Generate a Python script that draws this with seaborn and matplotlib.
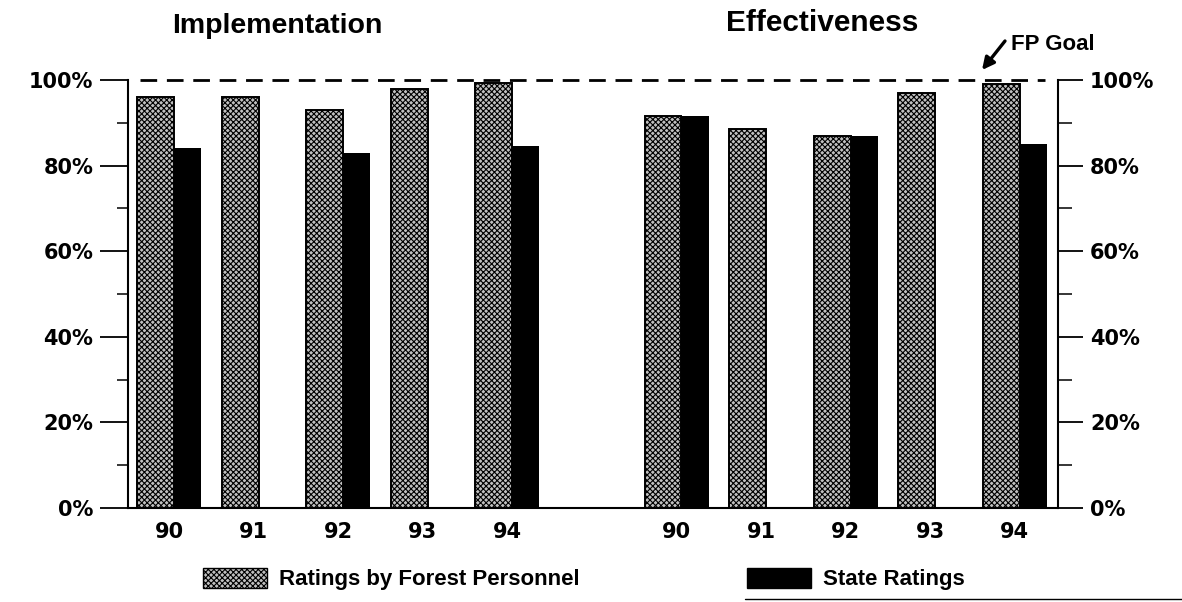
import numpy as np
import pandas as pd
import matplotlib
matplotlib.use("Agg")
import matplotlib.pyplot as plt
from matplotlib.ticker import MultipleLocator
from matplotlib.patches import Patch
from matplotlib.lines import Line2D
import seaborn as sns

# ---------------- data ----------------
panels = ["Implementation", "Effectiveness"]
years = ["90", "91", "92", "93", "94"]
forest_impl = [96, 96, 93, 98, 99.2]
state_impl = [84, np.nan, 83, np.nan, 84.5]
forest_eff = [91.5, 88.5, 87, 97, 99]
state_eff = [91.5, np.nan, 87, np.nan, 85]
series_names = ["Ratings by Forest Personnel", "State Ratings"]
ytick_vals = [0, 20, 40, 60, 80, 100]
goal_value = 100
goal_label = "FP Goal"

# ---------------- table ----------------
rows = []
for p_i, (fvals, svals) in enumerate([(forest_impl, state_impl), (forest_eff, state_eff)]):
    for y_i, yr in enumerate(years):
        slot = p_i * (len(years) + 1) + y_i
        rows.append(dict(panel=panels[p_i], year=yr, slot=slot, series=series_names[0], value=fvals[y_i]))
        rows.append(dict(panel=panels[p_i], year=yr, slot=slot, series=series_names[1], value=svals[y_i]))
df = pd.DataFrame(rows).dropna()

BAR_W = 0.437
OFFSET = 0.16
FOREST_FACE = "#c0c0c0"
HATCH = "xxxxxx"

sns.set_style("white")
plt.rcParams["font.family"] = ["DejaVu Sans"]
plt.rcParams["hatch.linewidth"] = 0.8
for k in ["text.color", "axes.labelcolor", "xtick.color", "ytick.color", "axes.edgecolor"]:
    plt.rcParams[k] = "black"

fig = plt.figure(figsize=(11.82, 6.02), dpi=100)
ax = fig.add_axes([128 / 1182, 1 - 508 / 602, (1058 - 128) / 1182, (508 - 80) / 602])

state_df = df[df.series == series_names[1]].copy()
state_df["pos"] = state_df["slot"] + OFFSET
forest_df = df[df.series == series_names[0]].copy()
forest_df["pos"] = forest_df["slot"] - OFFSET

def spacing(v):
    u = np.unique(v)
    return np.diff(u).min() if len(u) > 1 else 1

sns.barplot(data=state_df, x="pos", y="value", native_scale=True,
            width=BAR_W / spacing(state_df["pos"]), color="black",
            edgecolor="black", linewidth=0, errorbar=None, ax=ax)
sns.barplot(data=forest_df, x="pos", y="value", native_scale=True,
            width=BAR_W / spacing(forest_df["pos"]), color=FOREST_FACE,
            edgecolor="black", linewidth=1.4, hatch=HATCH, errorbar=None,
            saturation=1, ax=ax)

tick_slots = [p_i * (len(years) + 1) + y_i for p_i in range(2) for y_i in range(len(years))]
ax.set_xticks(tick_slots)
ax.set_xticklabels(years * 2, fontsize=15, fontweight="bold")
ax.tick_params(axis="x", length=0, pad=10)
ax.set_xlim(-0.485, 10.51)
ax.set_ylim(0, 100)
ax.set_xlabel("")
ax.set_ylabel("")

ax.set_yticks(ytick_vals)
ax.set_yticklabels([f"{v}%" for v in ytick_vals], fontsize=15, fontweight="bold")
ax.yaxis.set_minor_locator(MultipleLocator(10))
ax.tick_params(axis="y", which="major", direction="out", length=20, width=1.3, pad=5)
ax.tick_params(axis="y", which="minor", direction="out", length=8, width=1.1)
for s in ["top", "right"]:
    ax.spines[s].set_visible(False)
for s in ["left", "bottom"]:
    ax.spines[s].set_linewidth(1.5)

ax2 = ax.twinx()
ax2.set_ylim(0, 100)
ax2.set_yticks(ytick_vals)
ax2.set_yticklabels([f"{v}%" for v in ytick_vals], fontsize=15, fontweight="bold")
ax2.yaxis.set_minor_locator(MultipleLocator(10))
ax2.tick_params(axis="y", which="major", direction="out", length=18, width=1.3, pad=5)
ax2.tick_params(axis="y", which="minor", direction="out", length=10, width=1.1)
for s in ["top", "left", "bottom"]:
    ax2.spines[s].set_visible(False)
ax2.spines["right"].set_linewidth(1.5)
ax2.grid(False)
ax.grid(False)

# goal line
ax.axhline(goal_value, xmin=0.013, xmax=0.986, color="black", lw=2,
           linestyle=(0, (6, 3.5)), clip_on=False, zorder=5)

# titles
fig.text(277 / 1182, 1 - 26 / 602, panels[0], ha="center", va="center",
         fontsize=20.5, fontweight="bold", family=["Liberation Sans"])
fig.text(822 / 1182, 1 - 23 / 602, panels[1], ha="center", va="center",
         fontsize=21.5, fontweight="bold", family=["Liberation Sans"])

# FP Goal annotation
fig.text(1011 / 1182, 1 - 44 / 602, goal_label, ha="left", va="center",
         fontsize=16, fontweight="bold", family=["Liberation Sans"])
ax.annotate("", xy=(982 / 1182, 1 - 70 / 602), xycoords="figure fraction",
            xytext=(1005 / 1182, 1 - 41 / 602), textcoords="figure fraction",
            arrowprops=dict(arrowstyle="-|>", color="black", lw=2.4,
                            mutation_scale=18, shrinkA=0, shrinkB=0),
            annotation_clip=False)

# legend
handles = [Patch(facecolor=FOREST_FACE, edgecolor="black", hatch=HATCH, linewidth=1.0),
           Patch(facecolor="black", edgecolor="black")]
fig.legend(handles, series_names, loc="center", bbox_to_anchor=(584 / 1182, 1 - 579 / 602),
           ncol=2, frameon=False, handlelength=2.9, handleheight=1.0,
           columnspacing=7.5, handletextpad=0.55,
           prop=dict(family=["Liberation Sans"], weight="bold", size=16))

fig.add_artist(Line2D([745 / 1182, 1.0], [1 - 599 / 602] * 2, color="black", lw=1))

fig.savefig("out.png", dpi=100)
